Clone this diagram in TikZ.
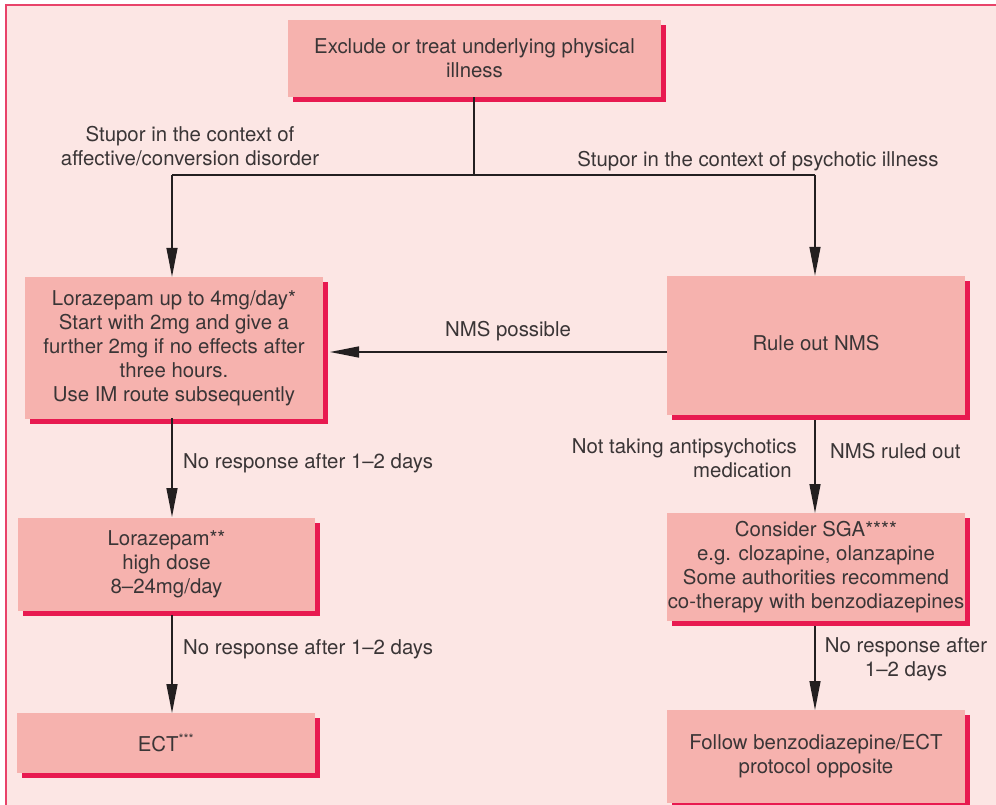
\documentclass[tikz,border=0pt]{standalone}
\usepackage{fontspec}
\setmainfont{TeX Gyre Heros}
\usetikzlibrary{arrows.meta,shadows}
\definecolor{panelbg}{HTML}{FCE6E4}
\definecolor{framecol}{HTML}{E8436A}
\definecolor{boxfill}{HTML}{F6B2AE}
\definecolor{boxshade}{HTML}{E81A50}
\definecolor{inkcol}{HTML}{3A3536}
\definecolor{linecol}{HTML}{231F20}
\tikzset{
  stepbox/.style={fill=boxfill, draw=none, text=inkcol, align=center,
    inner sep=0pt, font=\fontsize{20.4}{24}\selectfont,
    general shadow={fill=boxshade, shadow xshift=5pt, shadow yshift=-5pt}},
  lbl/.style={text=inkcol, inner sep=0pt, font=\fontsize{20.4}{24}\selectfont},
  flow/.style={draw=linecol, line width=1.4pt,
    -{Triangle[length=29pt,width=11pt]}},
  plain/.style={draw=linecol, line width=1.4pt}
}
\begin{document}
\begin{tikzpicture}[x=1pt,y=-1pt]
  \useasboundingbox (0,0) rectangle (996,805);
  \fill[white] (0,0) rectangle (996,805);
  % panel background and frame
  \fill[panelbg] (6,5) rectangle (996,805);
  \draw[framecol, line width=2pt] (6,805) -- (6,5) -- (996,5);

  % boxes
  \node[stepbox, minimum width=373pt, minimum height=77pt] (phys) at (474.5,58.5)
    {Exclude or treat underlying physical\\illness};
  \node[stepbox, minimum width=298pt, minimum height=142pt] (lora) at (174,348)
    {Lorazepam up to 4mg/day*\\Start with 2mg and give a\\further 2mg if no effects after\\three hours.\\Use IM route subsequently};
  \node[stepbox, minimum width=298pt, minimum height=139pt] (nms) at (816,345.5)
    {\raisebox{5pt}{Rule out NMS}};
  \node[stepbox, minimum width=297pt, minimum height=93pt] (lorb) at (166.5,564)
    {Lorazepam**\\high dose\\8–24mg/day};
  \node[stepbox, minimum width=298pt, minimum height=60pt] (ect) at (166,743)
    {ECT\textsuperscript{\fontsize{13}{13}\selectfont ***}};
  \node[stepbox, minimum width=298pt, minimum height=108pt] (sga) at (816,567)
    {Consider SGA****\\e.g. clozapine, olanzapine\\Some authorities recommend\\co-therapy with benzodiazepines};
  \node[stepbox, minimum width=298pt, minimum height=93pt] (follow) at (816,756.5)
    {Follow benzodiazepine/ECT\\protocol opposite};

  % branching under the first box
  \coordinate (split) at (474,175);
  \coordinate (splitL) at (172,175);
  \coordinate (splitR) at (815,175);
  \draw[plain] (phys.south -| split) -- (split);
  \draw[plain] (splitL) -- (splitR);
  \draw[flow] (splitL) -- (splitL |- lora.north);
  \draw[flow] (splitR) -- (splitR |- nms.north);

  \node[lbl, align=center] (affect) at (190,146)
    {Stupor in the context of\\affective/conversion disorder};
  \node[lbl] (psych) at (758,161) {Stupor in the context of psychotic illness};

  % NMS possible
  \coordinate (nmsL) at (667,352);
  \coordinate (loraR) at (330,352);
  \draw[flow] (nmsL) -- (loraR);
  \node[lbl] (possible) at (508,331) {NMS possible};

  % left column
  \draw[flow] (172,418) -- (172,517);
  \node[lbl, anchor=west] (noresp1) at (183,463) {No response after 1–2 days};
  \draw[flow] (172,615) -- (172,713);
  \node[lbl, anchor=west] (noresp2) at (183,649) {No response after 1–2 days};

  % right column
  \draw[flow] (815,420) -- (815,513);
  \node[lbl, anchor=west] (ruled) at (830,451) {NMS ruled out};
  \node[lbl, anchor=east, align=right] (notaking) at (797,458)
    {Not taking antipsychotics\\medication\hspace*{5pt}};
  \draw[flow] (815,626) -- (815,710);
  \node[lbl, align=center] (noresp3) at (906,659) {No response after\\1–2 days};
\end{tikzpicture}
\end{document}
